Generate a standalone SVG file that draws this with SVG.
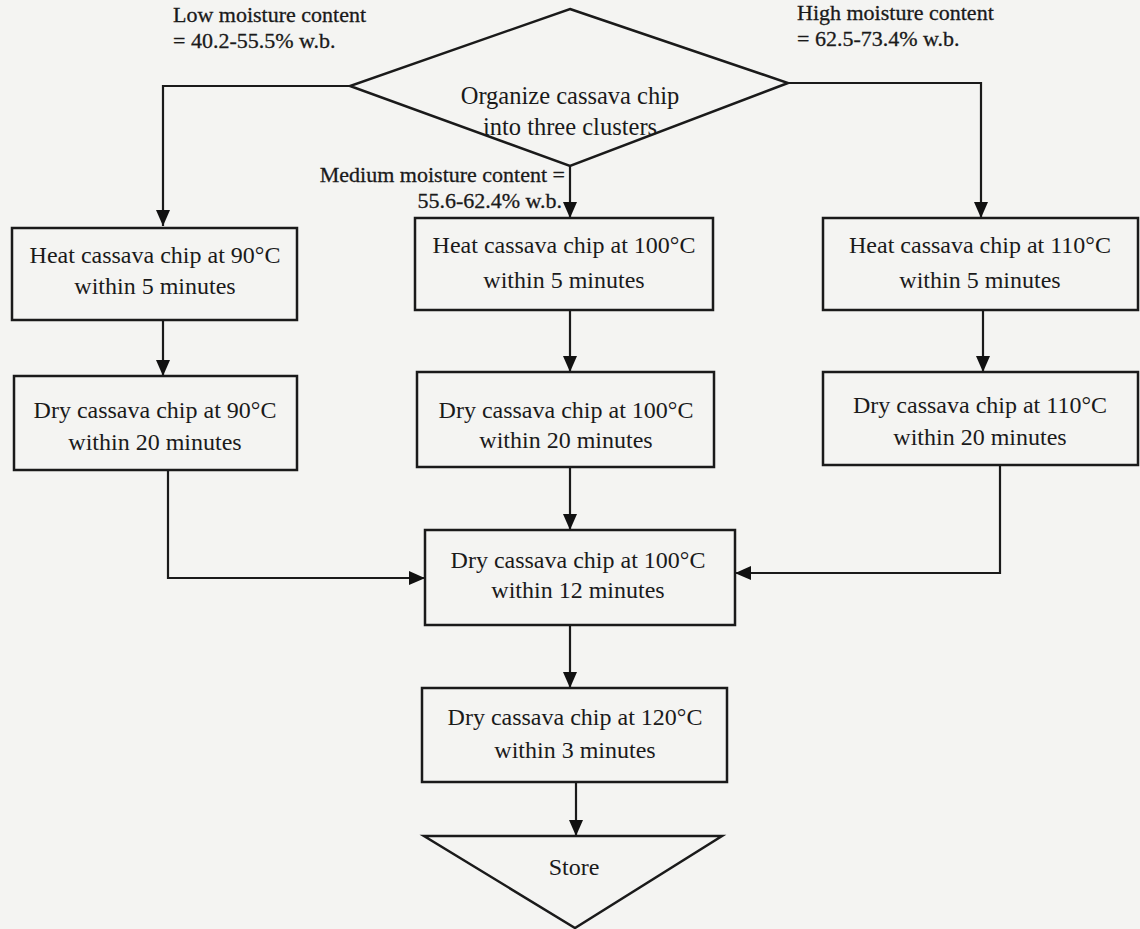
<svg xmlns="http://www.w3.org/2000/svg" width="1140" height="929" viewBox="0 0 1140 929">
<defs>
<marker id="ah" markerUnits="userSpaceOnUse" markerWidth="14" markerHeight="20" viewBox="0 0 14 20" refX="16" refY="7" orient="auto">
<path d="M0,0 L16,7 L0,14 z" fill="#111"/>
</marker>
<style>
.box{fill:none;stroke:#1a1a1a;stroke-width:2.5}
.t{font-family:"Liberation Serif","Times New Roman",serif;font-size:24px;fill:#1a1a1a;text-anchor:middle}
.d{font-family:"Liberation Serif","Times New Roman",serif;font-size:24.5px;fill:#1a1a1a;text-anchor:middle}
.l{font-family:"Liberation Serif","Times New Roman",serif;font-size:22px;fill:#1a1a1a;stroke:#1a1a1a;stroke-width:0.3}
.c{fill:none;stroke:#1a1a1a;stroke-width:2.2}
</style>
</defs>
<rect width="1140" height="929" fill="#f4f4f2"/>
<g id="connectors">
<path class="c" d="M350,86 H163 V226" marker-end="url(#ah)"/>
<path class="c" d="M570,166 V218" marker-end="url(#ah)"/>
<path class="c" d="M788,83 H981 V218" marker-end="url(#ah)"/>
<path class="c" d="M163,320 V376" marker-end="url(#ah)"/>
<path class="c" d="M570,310 V372" marker-end="url(#ah)"/>
<path class="c" d="M983,310 V372" marker-end="url(#ah)"/>
<path class="c" d="M570,467 V530" marker-end="url(#ah)"/>
<path class="c" d="M168,470 V578 H425" marker-end="url(#ah)"/>
<path class="c" d="M1000,465 V573 H735" marker-end="url(#ah)"/>
<path class="c" d="M570,625 V688" marker-end="url(#ah)"/>
<path class="c" d="M576,782 V836" marker-end="url(#ah)"/>
</g>
<g id="labels">
<text class="l" x="173" y="22">Low moisture content</text>
<text class="l" x="173" y="48">= 40.2-55.5% w.b.</text>
<text class="l" x="797" y="20">High moisture content</text>
<text class="l" x="797" y="46">= 62.5-73.4% w.b.</text>
<text class="l" x="565" y="182" text-anchor="end">Medium moisture content =</text>
<text class="l" x="562" y="208" text-anchor="end">55.6-62.4% w.b.</text>
</g>
<g id="decision">
<polygon class="box" points="570,9 788,83 570,166 350,86"/>
<text class="d" x="570" y="104">Organize cassava chip</text>
<text class="d" x="570" y="135">into three clusters</text>
</g>
<g id="heat90">
<rect class="box" x="12" y="228" width="285" height="92"/>
<text class="t" x="155" y="263">Heat cassava chip at 90°C</text>
<text class="t" x="155" y="294">within 5 minutes</text>
</g>
<g id="dry90">
<rect class="box" x="14" y="376" width="283" height="94"/>
<text class="t" x="155" y="418">Dry cassava chip at 90°C</text>
<text class="t" x="155" y="450">within 20 minutes</text>
</g>
<g id="heat100">
<rect class="box" x="415" y="218" width="298" height="92"/>
<text class="t" x="564" y="253">Heat cassava chip at 100°C</text>
<text class="t" x="564" y="288">within 5 minutes</text>
</g>
<g id="dry100">
<rect class="box" x="417" y="372" width="297" height="95"/>
<text class="t" x="566" y="418">Dry cassava chip at 100°C</text>
<text class="t" x="566" y="448">within 20 minutes</text>
</g>
<g id="heat110">
<rect class="box" x="823" y="218" width="315" height="92"/>
<text class="t" x="980" y="253">Heat cassava chip at 110°C</text>
<text class="t" x="980" y="288">within 5 minutes</text>
</g>
<g id="dry110">
<rect class="box" x="823" y="372" width="315" height="93"/>
<text class="t" x="980" y="413">Dry cassava chip at 110°C</text>
<text class="t" x="980" y="445">within 20 minutes</text>
</g>
<g id="dry100b">
<rect class="box" x="425" y="530" width="310" height="95"/>
<text class="t" x="578" y="568">Dry cassava chip at 100°C</text>
<text class="t" x="578" y="598">within 12 minutes</text>
</g>
<g id="dry120">
<rect class="box" x="422" y="688" width="305" height="94"/>
<text class="t" x="575" y="725">Dry cassava chip at 120°C</text>
<text class="t" x="575" y="758">within 3 minutes</text>
</g>
<g id="store">
<polygon class="box" points="424,836 722,836 575,928"/>
<text class="t" x="574" y="875">Store</text>
</g>
</svg>
